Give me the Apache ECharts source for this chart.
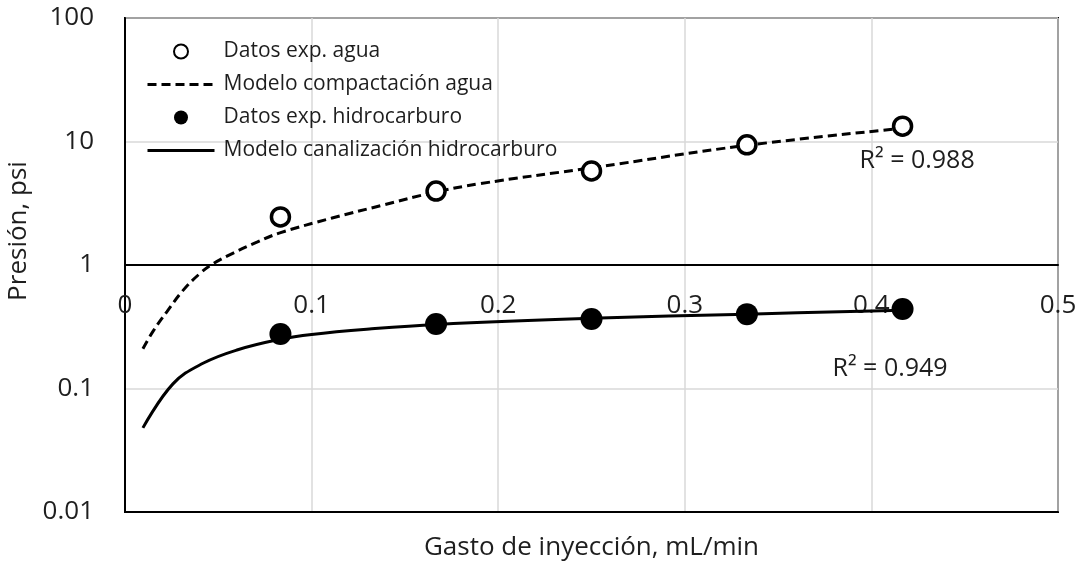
<!DOCTYPE html>
<html>
<head>
<meta charset="utf-8">
<script src="https://cdn.jsdelivr.net/npm/echarts@6/dist/echarts.min.js"></script>
<style>html,body{margin:0;padding:0;background:#fff}#c{width:1083px;height:573px}</style>
</head>
<body>
<div id="c"></div>
<script>
// ---- data ----
const xTicks = [0, 0.1, 0.2, 0.3, 0.4, 0.5];
const yTicks = [0.01, 0.1, 1, 10, 100];

const expX = [0.0833, 0.1667, 0.25, 0.3333, 0.4167];
const waterExp = [2.45, 3.97, 5.77, 9.4, 13.3];
const hcExp = [0.276, 0.333, 0.365, 0.40, 0.44];

const waterModelX = [0.0096, 0.015, 0.0225, 0.031, 0.040, 0.047, 0.058, 0.0707, 0.083, 0.111, 0.138, 0.165, 0.190, 0.251, 0.333, 0.417];
const waterModelY = [0.21, 0.29, 0.42, 0.62, 0.85, 1.02, 1.25, 1.53, 1.82, 2.4, 3.05, 3.85, 4.55, 6.15, 9.3, 12.8];

const hcModelX = [0.0096, 0.0257, 0.0418, 0.060, 0.083, 0.100, 0.131, 0.167, 0.25, 0.333, 0.417];
const hcModelY = [0.048, 0.109, 0.160, 0.205, 0.25, 0.274, 0.303, 0.33, 0.37, 0.40, 0.43];

const seriesNames = ['Datos exp. agua', 'Modelo compactación agua', 'Datos exp. hidrocarburo', 'Modelo canalización hidrocarburo'];
const r2Labels = ['R² = 0.988', 'R² = 0.949'];
const r2Pos = [[0.4245, 6.95], [0.41, 0.144]];

const xTitle = 'Gasto de inyección, mL/min';
const yTitle = 'Presión, psi';

// ---- chart ----
const FONT = 'Open Sans';
const TXT = '#1e1e1e';
const zip = (a, b) => a.map((v, i) => [v, b[i]]);

const chart = echarts.init(document.getElementById('c'));
const gridTop = 18, gridBottom = 61;
const plotH = 573 - gridTop - gridBottom;
const oneOffset = -plotH / 2; // y = 1 sits at middle of the 0.01..100 log range

chart.setOption({
  backgroundColor: '#fff',
  animation: false,
  textStyle: { fontFamily: FONT, color: TXT },
  grid: { left: 125, right: 25, top: gridTop, bottom: gridBottom, containLabel: false, outerBoundsMode: 'none',
    show: true, borderColor: '#000', borderWidth: 2, backgroundColor: 'transparent' },
  legend: {
    orient: 'vertical', left: 146, top: 41, padding: 0,
    itemWidth: 67, itemHeight: 14, itemGap: 12,
    data: seriesNames,
    lineStyle: { width: 3 },
    textStyle: { fontFamily: FONT, fontSize: 21, color: TXT, padding: [0, 0, 0, 4] }
  },
  xAxis: [
    {
      type: 'value', min: xTicks[0], max: xTicks[xTicks.length - 1], interval: 0.1,
      position: 'bottom',
      axisLine: { show: true, onZero: false, lineStyle: { color: '#000', width: 2 } },
      axisTick: { show: false },
      axisLabel: { show: false },
      splitLine: { show: true, lineStyle: { color: '#d9d9d9', width: 1.5 } },
      name: xTitle, nameLocation: 'middle', nameGap: 23,
      nameTextStyle: { fontFamily: FONT, fontSize: 26, color: TXT }
    },
    {
      type: 'value', min: xTicks[0], max: xTicks[xTicks.length - 1], interval: 0.1,
      position: 'top', offset: oneOffset,
      axisLine: { show: true, onZero: false, lineStyle: { color: '#000', width: 2 } },
      axisTick: { show: false },
      splitLine: { show: false },
      axisLabel: { show: true, inside: true, margin: 28, fontFamily: FONT, fontSize: 26, color: TXT,
        formatter: v => String(Number(v.toFixed(1))) }
    }
  ],
  yAxis: {
    type: 'log', logBase: 10, min: yTicks[0], max: yTicks[yTicks.length - 1],
    axisLine: { show: true, lineStyle: { color: '#000', width: 2 } },
    axisTick: { show: false },
    splitLine: { show: true, lineStyle: { color: '#d9d9d9', width: 1.5 } },
    axisLabel: { fontFamily: FONT, fontSize: 26, color: TXT, margin: 31,
      formatter: v => String(Number(v.toPrecision(2))) },
    name: yTitle, nameLocation: 'middle', nameGap: 88,
    nameTextStyle: { fontFamily: FONT, fontSize: 26, color: TXT, padding: [0, 0, 0, 68] }
  },
  series: [
    {
      name: seriesNames[0], type: 'scatter', xAxisIndex: 0,
      data: zip(expX, waterExp),
      symbol: 'circle', symbolSize: 18,
      itemStyle: { color: '#fff', borderColor: '#000', borderWidth: 3.5, opacity: 1 },
      z: 5
    },
    {
      name: seriesNames[1], type: 'line', xAxisIndex: 0,
      data: zip(waterModelX, waterModelY),
      symbol: 'none', smooth: 0.4,
      lineStyle: { color: '#000', width: 3, type: [9, 5] },
      itemStyle: { color: 'rgba(0,0,0,0)' },
      markPoint: {
        symbol: 'circle', symbolSize: 0,
        label: { show: true, formatter: r2Labels[0], fontFamily: FONT, fontSize: 25, color: TXT },
        data: [{ coord: r2Pos[0] }]
      },
      z: 4
    },
    {
      name: seriesNames[2], type: 'scatter', xAxisIndex: 0,
      data: zip(expX, hcExp),
      symbol: 'circle', symbolSize: 22,
      itemStyle: { color: '#000', opacity: 1 },
      z: 5
    },
    {
      name: seriesNames[3], type: 'line', xAxisIndex: 0,
      data: zip(hcModelX, hcModelY),
      symbol: 'none', smooth: 0.4,
      lineStyle: { color: '#000', width: 3 },
      itemStyle: { color: 'rgba(0,0,0,0)' },
      markPoint: {
        symbol: 'circle', symbolSize: 0,
        label: { show: true, formatter: r2Labels[1], fontFamily: FONT, fontSize: 25, color: TXT },
        data: [{ coord: r2Pos[1] }]
      },
      z: 4
    }
  ]
});
</script>
</body>
</html>
